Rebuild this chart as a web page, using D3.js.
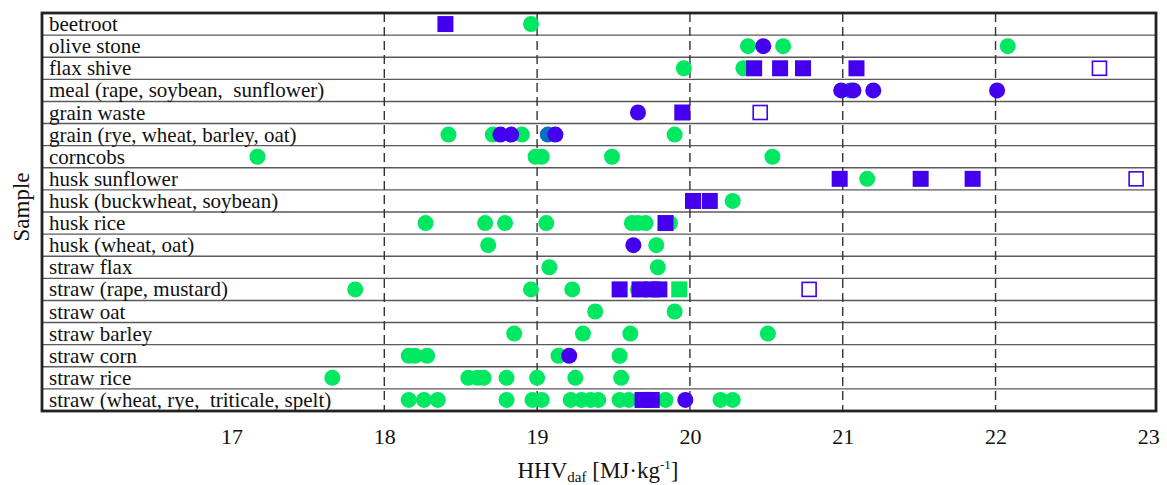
<!DOCTYPE html>
<html><head><meta charset="utf-8">
<script src="https://cdn.jsdelivr.net/npm/d3@7"></script>
<style>html,body{margin:0;padding:0;background:#fff;} svg{display:block;}</style>
</head><body>
<svg id="chart" width="1167" height="485"></svg>
<script>
const categories = ["beetroot","olive stone","flax shive","meal (rape, soybean,  sunflower)","grain waste","grain (rye, wheat, barley, oat)","corncobs","husk sunflower","husk (buckwheat, soybean)","husk rice","husk (wheat, oat)","straw flax","straw (rape, mustard)","straw oat","straw barley","straw corn","straw rice","straw (wheat, rye,  triticale, spelt)"];
const xTicks = [17,18,19,20,21,22,23];
const greenCircles = [
 ["beetroot",18.96],
 ["olive stone",20.38],["olive stone",20.61],["olive stone",22.08],
 ["flax shive",19.96],["flax shive",20.35],
 ["grain (rye, wheat, barley, oat)",18.42],["grain (rye, wheat, barley, oat)",18.71],["grain (rye, wheat, barley, oat)",18.90],["grain (rye, wheat, barley, oat)",19.90],
 ["corncobs",17.17],["corncobs",18.99],["corncobs",19.03],["corncobs",19.49],["corncobs",20.54],
 ["husk sunflower",21.16],
 ["husk (buckwheat, soybean)",20.28],
 ["husk rice",18.27],["husk rice",18.66],["husk rice",18.79],["husk rice",19.06],["husk rice",19.62],["husk rice",19.66],["husk rice",19.71],["husk rice",19.87],
 ["husk (wheat, oat)",18.68],["husk (wheat, oat)",19.78],
 ["straw flax",19.08],["straw flax",19.79],
 ["straw (rape, mustard)",17.81],["straw (rape, mustard)",18.96],["straw (rape, mustard)",19.23],["straw (rape, mustard)",19.66],
 ["straw oat",19.38],["straw oat",19.90],
 ["straw barley",18.85],["straw barley",19.30],["straw barley",19.61],["straw barley",20.51],
 ["straw corn",18.16],["straw corn",18.20],["straw corn",18.28],["straw corn",19.14],["straw corn",19.54],
 ["straw rice",17.66],["straw rice",18.55],["straw rice",18.61],["straw rice",18.65],["straw rice",18.80],["straw rice",19.00],["straw rice",19.25],["straw rice",19.55],
 ["straw (wheat, rye,  triticale, spelt)",18.16],["straw (wheat, rye,  triticale, spelt)",18.26],["straw (wheat, rye,  triticale, spelt)",18.35],["straw (wheat, rye,  triticale, spelt)",18.80],["straw (wheat, rye,  triticale, spelt)",18.97],["straw (wheat, rye,  triticale, spelt)",19.03],["straw (wheat, rye,  triticale, spelt)",19.22],["straw (wheat, rye,  triticale, spelt)",19.29],["straw (wheat, rye,  triticale, spelt)",19.35],["straw (wheat, rye,  triticale, spelt)",19.40],["straw (wheat, rye,  triticale, spelt)",19.54],["straw (wheat, rye,  triticale, spelt)",19.60],["straw (wheat, rye,  triticale, spelt)",19.84],["straw (wheat, rye,  triticale, spelt)",20.20],["straw (wheat, rye,  triticale, spelt)",20.28]
];
const tealCircles = [
 ["grain (rye, wheat, barley, oat)",19.07],
 ["meal (rape, soybean,  sunflower)",21.05]
];
const blueCircles = [
 ["olive stone",20.48],
 ["meal (rape, soybean,  sunflower)",20.99],["meal (rape, soybean,  sunflower)",21.07],["meal (rape, soybean,  sunflower)",21.20],["meal (rape, soybean,  sunflower)",22.01],
 ["grain waste",19.66],
 ["grain (rye, wheat, barley, oat)",18.76],["grain (rye, wheat, barley, oat)",18.83],["grain (rye, wheat, barley, oat)",19.12],
 ["husk (wheat, oat)",19.63],
 ["straw corn",19.21],
 ["straw (wheat, rye,  triticale, spelt)",19.97]
];
const blueSquares = [
 ["beetroot",18.40],
 ["flax shive",20.42],["flax shive",20.59],["flax shive",20.74],["flax shive",21.09],
 ["grain waste",19.95],
 ["husk sunflower",20.98],["husk sunflower",21.51],["husk sunflower",21.85],
 ["husk (buckwheat, soybean)",20.02],["husk (buckwheat, soybean)",20.13],
 ["husk rice",19.84],
 ["straw (rape, mustard)",19.54],["straw (rape, mustard)",19.67],["straw (rape, mustard)",19.75],["straw (rape, mustard)",19.80],
 ["straw (wheat, rye,  triticale, spelt)",19.69],["straw (wheat, rye,  triticale, spelt)",19.75]
];
const greenSquares = [
 ["straw (rape, mustard)",19.93]
];
const openSquares = [
 ["flax shive",22.68],
 ["grain waste",20.46],
 ["husk sunflower",22.92],
 ["straw (rape, mustard)",20.78]
];

const GREEN = "#00e862", BLUE = "#4400ee", TEAL = "#0a6fc0";
const svg = d3.select("#chart");
const L = 42, R = 1156, T = 13, B = 411;
const x = d3.scaleLinear().domain([15.76, 23.05]).range([L, R]);
const y = d3.scaleBand().domain(categories).range([T, B]).padding(0);
const cy = c => y(c) + y.bandwidth()/2;
const FONT = "'Liberation Serif','Times New Roman',serif";

// row separators
svg.append("g").selectAll("line").data(categories.slice(1)).join("line")
  .attr("x1", L).attr("x2", R).attr("y1", d => y(d)).attr("y2", d => y(d))
  .attr("stroke", "#5a5a5a").attr("stroke-width", 1.4);

// vertical dashed grid
svg.append("g").selectAll("line").data(xTicks.filter(t => t > 17 && t < 23)).join("line")
  .attr("x1", d => x(d)).attr("x2", d => x(d)).attr("y1", T).attr("y2", B)
  .attr("stroke", "#333").attr("stroke-width", 1.4).attr("stroke-dasharray", "9,5");

// category labels
svg.append("g").selectAll("text").data(categories).join("text")
  .attr("x", 49).attr("y", d => cy(d) + 7)
  .attr("font-family", FONT).attr("font-size", 21).attr("fill", "#111")
  .style("white-space", "pre").attr("xml:space", "preserve")
  .text(d => d);

const sz = 16;
function circles(data, color) {
  svg.append("g").selectAll("circle").data(data).join("circle")
    .attr("cx", d => x(d[1])).attr("cy", d => cy(d[0])).attr("r", sz/2).attr("fill", color);
}
function squares(data, color, open) {
  const s = open ? 14 : sz;
  svg.append("g").selectAll("rect").data(data).join("rect")
    .attr("x", d => x(d[1]) - s/2).attr("y", d => cy(d[0]) - s/2)
    .attr("width", s).attr("height", s)
    .attr("fill", open ? "#fff" : color)
    .attr("stroke", open ? color : "none").attr("stroke-width", open ? 1.6 : 0);
}
circles(greenCircles, GREEN);
circles(tealCircles, TEAL);
circles(blueCircles, BLUE);
squares(blueSquares, BLUE, false);
squares(greenSquares, GREEN, false);
squares(openSquares, BLUE, true);

// frame
svg.append("rect").attr("x", L).attr("y", T).attr("width", R - L).attr("height", B - T)
  .attr("fill", "none").attr("stroke", "#222").attr("stroke-width", 2.8);

// x axis tick labels
const xa = d3.axisBottom(x).tickValues(xTicks).tickSize(0).tickPadding(0).tickFormat(d3.format("d"));
const gx = svg.append("g").attr("transform", `translate(0,${B})`).call(xa);
gx.select(".domain").remove();
gx.selectAll("text").attr("font-family", FONT).attr("font-size", 22).attr("fill", "#111")
  .attr("dy", null).attr("y", 33);

// axis titles
const tt = svg.append("text").attr("x", 598).attr("y", 478).attr("text-anchor", "middle")
  .attr("font-family", FONT).attr("font-size", 23).attr("fill", "#111");
tt.append("tspan").text("HHV");
tt.append("tspan").attr("font-size", 15).attr("dy", 4).text("daf");
tt.append("tspan").attr("dy", -4).text(" [MJ\u00B7kg");
tt.append("tspan").attr("font-size", 13).attr("dy", -9).text("-1");
tt.append("tspan").attr("dy", 9).text("]");

svg.append("text").attr("transform", "translate(29,207) rotate(-90)").attr("text-anchor", "middle")
  .attr("font-family", FONT).attr("font-size", 23).attr("fill", "#111").text("Sample");
</script>
</body></html>
